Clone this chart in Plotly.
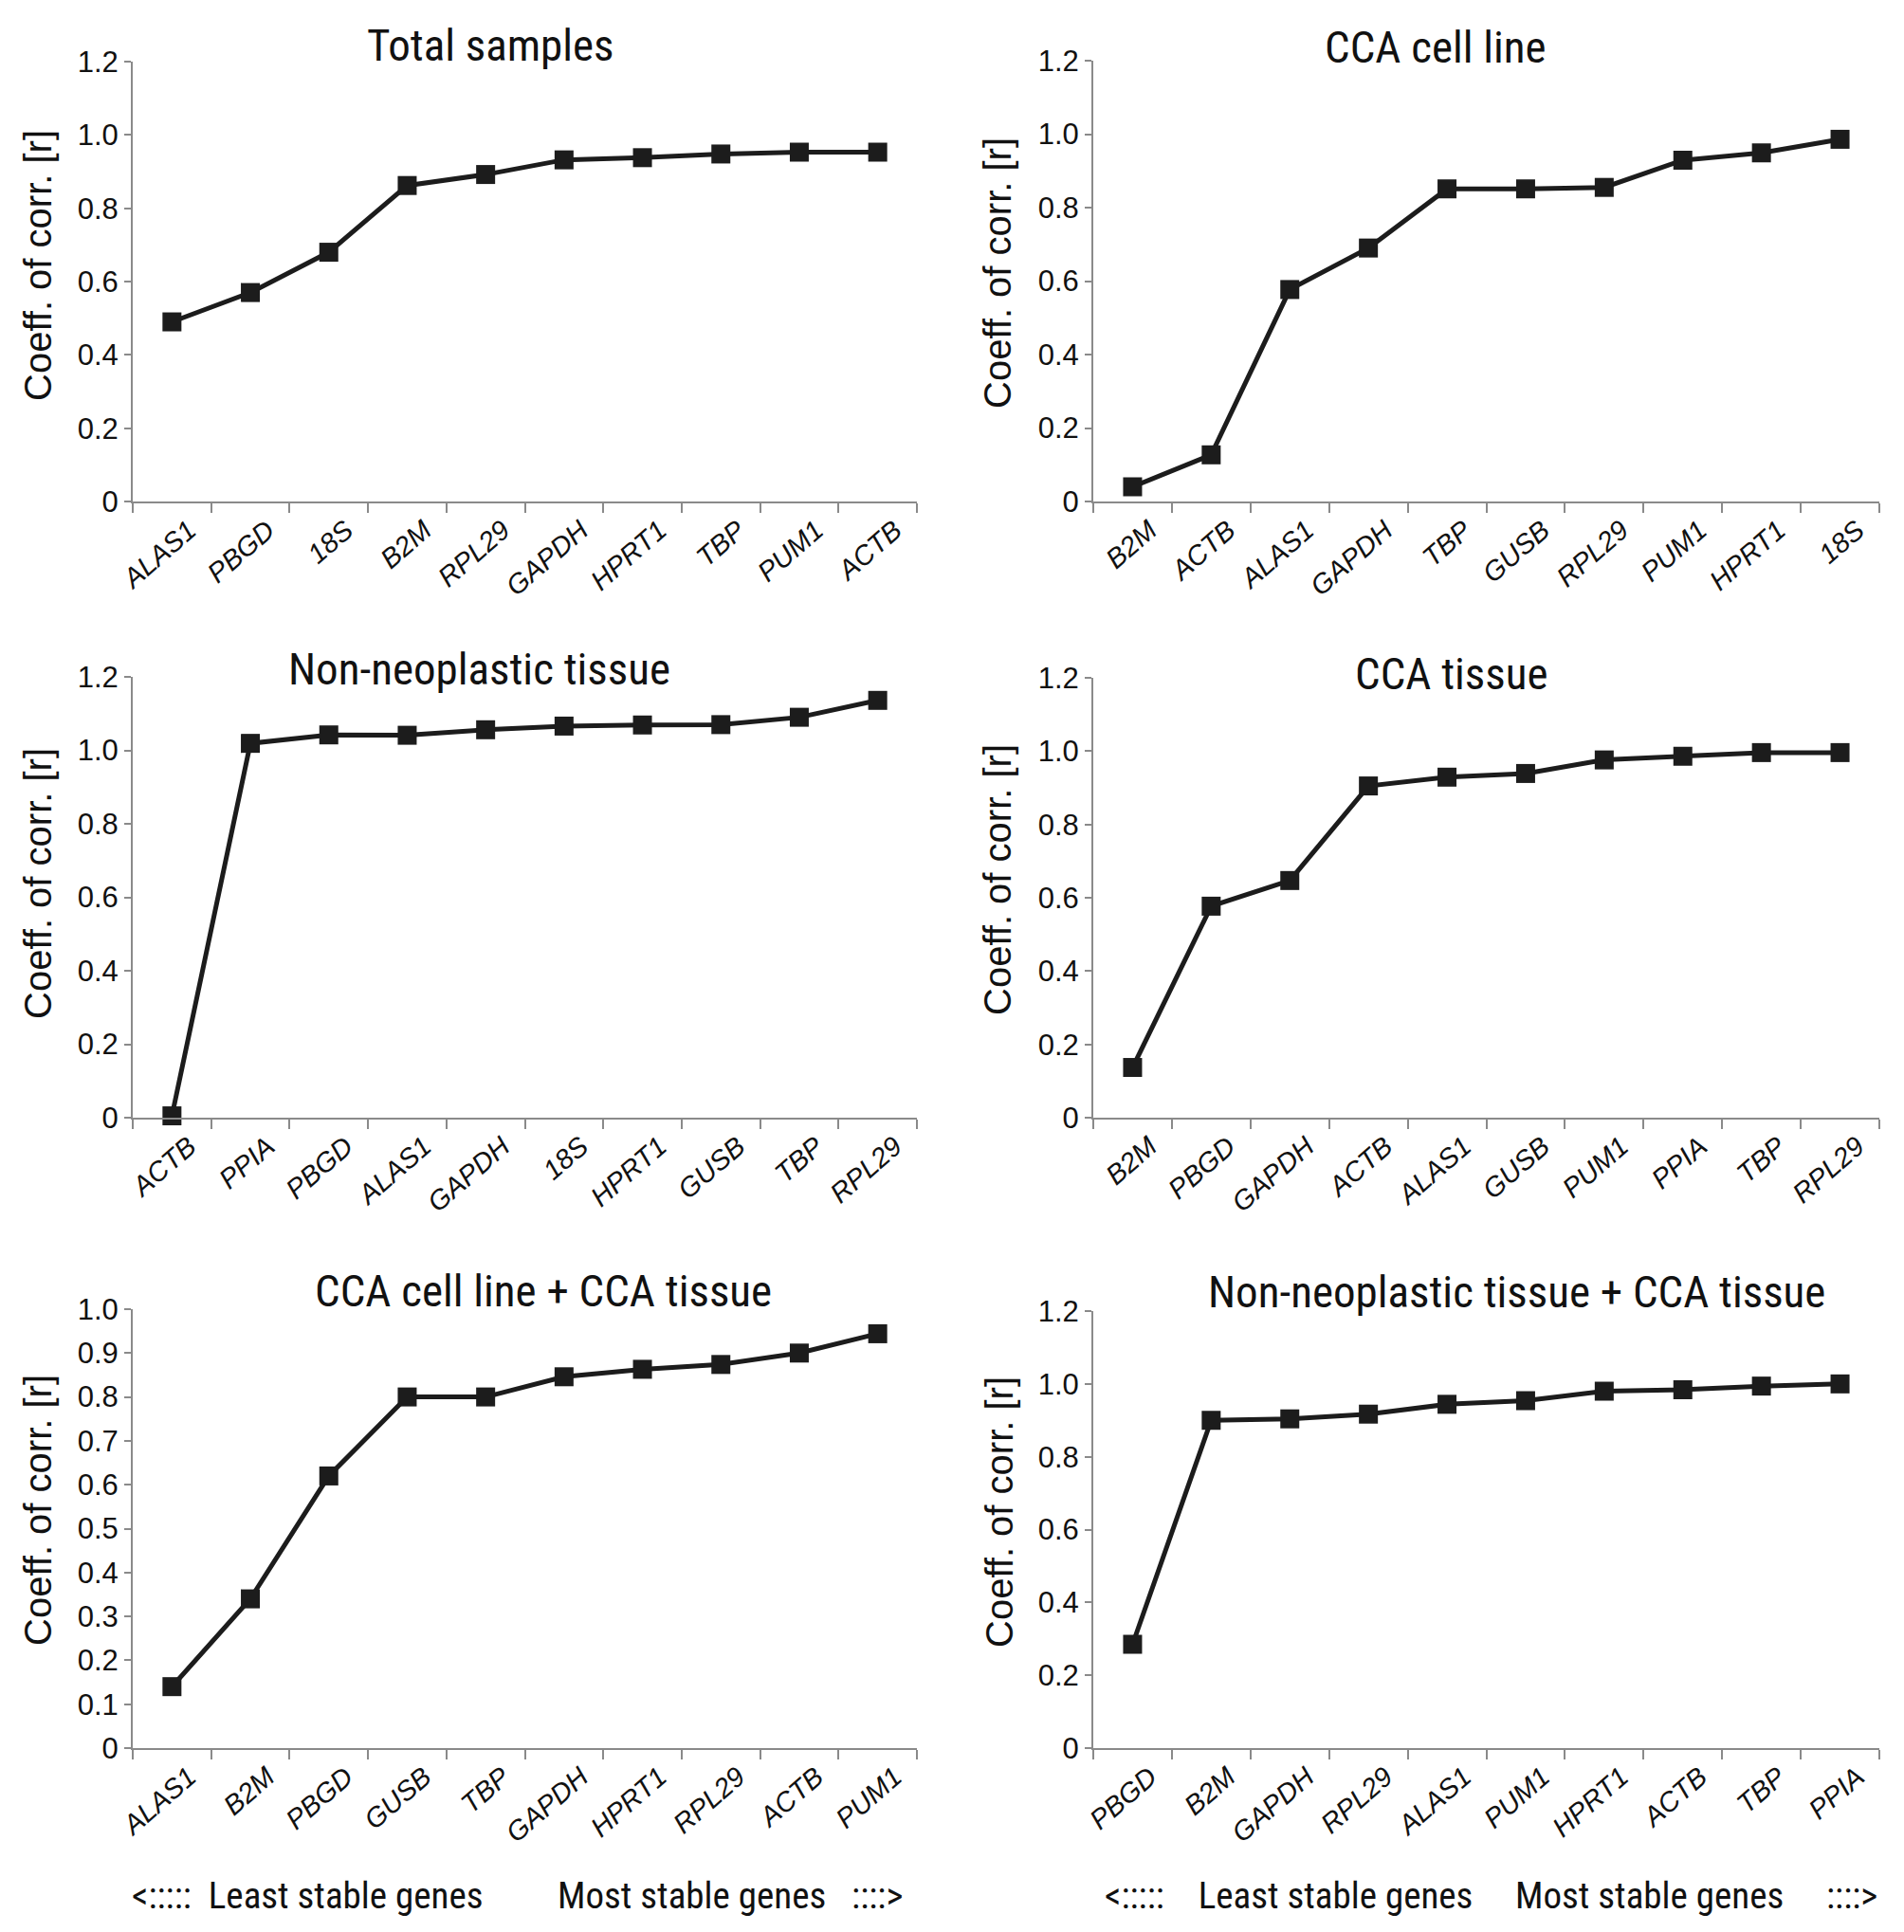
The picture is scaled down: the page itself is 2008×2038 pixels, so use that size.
import plotly.graph_objects as go

# page is 2008 x 2038; the browser body adds an 8 px margin, so the figure is 8 px smaller
PAGE_OFF = 8
W, H = 2000, 2030

# ---------------- data ----------------
total_genes = ["ALAS1", "PBGD", "18S", "B2M", "RPL29", "GAPDH", "HPRT1", "TBP", "PUM1", "ACTB"]
total_vals = [0.49, 0.57, 0.68, 0.862, 0.892, 0.932, 0.938, 0.948, 0.953, 0.953]

cellline_genes = ["B2M", "ACTB", "ALAS1", "GAPDH", "TBP", "GUSB", "RPL29", "PUM1", "HPRT1", "18S"]
cellline_vals = [0.04, 0.127, 0.577, 0.69, 0.851, 0.851, 0.855, 0.929, 0.949, 0.986]

nonneo_genes = ["ACTB", "PPIA", "PBGD", "ALAS1", "GAPDH", "18S", "HPRT1", "GUSB", "TBP", "RPL29"]
nonneo_vals = [0.005, 1.019, 1.042, 1.041, 1.056, 1.066, 1.069, 1.07, 1.09, 1.136]

ccatissue_genes = ["B2M", "PBGD", "GAPDH", "ACTB", "ALAS1", "GUSB", "PUM1", "PPIA", "TBP", "RPL29"]
ccatissue_vals = [0.137, 0.577, 0.647, 0.905, 0.929, 0.939, 0.976, 0.986, 0.996, 0.996]

cell_tissue_genes = ["ALAS1", "B2M", "PBGD", "GUSB", "TBP", "GAPDH", "HPRT1", "RPL29", "ACTB", "PUM1"]
cell_tissue_vals = [0.14, 0.34, 0.62, 0.80, 0.80, 0.846, 0.863, 0.874, 0.90, 0.944]

nonneo_tissue_genes = ["PBGD", "B2M", "GAPDH", "RPL29", "ALAS1", "PUM1", "HPRT1", "ACTB", "TBP", "PPIA"]
nonneo_tissue_vals = [0.285, 0.90, 0.904, 0.917, 0.944, 0.954, 0.98, 0.984, 0.994, 1.0]

titles = ["Total samples", "CCA cell line", "Non-neoplastic tissue", "CCA tissue",
          "CCA cell line + CCA tissue", "Non-neoplastic tissue + CCA tissue"]
y_title = "Coeff. of corr. [r]"
notes = [
    ("<:::::\u00a0 Least stable genes", "Most stable genes \u00a0 ::::>"),
    ("<:::::\u00a0\u00a0\u00a0 Least stable genes", "Most stable genes \u00a0\u00a0\u00a0 ::::>"),
]

ticks_12 = [0, 0.2, 0.4, 0.6, 0.8, 1.0, 1.2]
ticks_12_text = ["0", "0.2", "0.4", "0.6", "0.8", "1.0", "1.2"]
ticks_10 = [0, 0.1, 0.2, 0.3, 0.4, 0.5, 0.6, 0.7, 0.8, 0.9, 1.0]
ticks_10_text = ["0", "0.1", "0.2", "0.3", "0.4", "0.5", "0.6", "0.7", "0.8", "0.9", "1.0"]

panels = [
    (total_genes, total_vals, 1.2),
    (cellline_genes, cellline_vals, 1.2),
    (nonneo_genes, nonneo_vals, 1.2),
    (ccatissue_genes, ccatissue_vals, 1.2),
    (cell_tissue_genes, cell_tissue_vals, 1.0),
    (nonneo_tissue_genes, nonneo_tissue_vals, 1.2),
]

# ---------------- layout geometry (page pixels) ----------------
boxes = [
    (140, 967, 65, 529),
    (1153, 1982, 64, 529),
    (140, 967, 714, 1179),
    (1153, 1982, 715, 1179),
    (140, 967, 1381, 1844),
    (1153, 1982, 1383, 1844),
]
title_pos = [(517, 47), (1514, 49), (505, 705), (1531, 710), (573, 1361), (1599, 1362)]
ytitle_pos = [(40, 280), (1052, 288), (40, 932), (1052, 928), (40, 1593), (1054, 1595)]
note_pos = [(137, 954), (1163, 1982)]
note_y = 2000

COND = "Roboto Condensed, Liberation Sans, Arial, sans-serif"
REG = "Liberation Sans, Arial, sans-serif"
INK = "#1c1c1c"
AXC = "#8a8a8a"


def px(x):
    return (x - PAGE_OFF) / W


def py(y):
    return 1 - (y - PAGE_OFF) / H


fig = go.Figure()
annotations = []

for i, ((genes, vals, ymax), (l, r, t, b)) in enumerate(zip(panels, boxes)):
    n = i + 1
    xa = "x" if n == 1 else f"x{n}"
    ya = "y" if n == 1 else f"y{n}"
    fig.add_trace(go.Scatter(
        x=genes, y=vals, mode="lines+markers", xaxis=xa, yaxis=ya,
        line=dict(color=INK, width=5),
        marker=dict(symbol="square", size=20, color=INK),
        cliponaxis=False, showlegend=False,
    ))
    if ymax == 1.2:
        tv, tt = ticks_12, ticks_12_text
    else:
        tv, tt = ticks_10, ticks_10_text
    xkey = "xaxis" if n == 1 else f"xaxis{n}"
    ykey = "yaxis" if n == 1 else f"yaxis{n}"
    fig.update_layout({
        xkey: dict(
            domain=[px(l), px(r)], anchor=ya, type="category",
            range=[-0.5, 9.5], showgrid=False, zeroline=False, automargin=False,
            showline=True, linecolor=AXC, linewidth=2,
            ticks="outside", tickson="boundaries", ticklen=10, tickcolor=AXC, tickwidth=2,
            tickangle=-41, ticklabelshift=18,
            tickfont=dict(family=REG, size=29, color="#111", style="italic"),
            fixedrange=True,
        ),
        ykey: dict(
            domain=[py(b), py(t)], anchor=xa, range=[0, ymax],
            tickvals=tv, ticktext=tt, showgrid=False, zeroline=False, automargin=False,
            showline=True, linecolor=AXC, linewidth=2,
            ticks="outside", ticklen=7, tickcolor=AXC, tickwidth=2,
            tickfont=dict(family=REG, size=31, color="#111"),
            fixedrange=True,
        ),
    })
    tx, ty = title_pos[i]
    annotations.append(dict(
        text=titles[i], x=px(tx), y=py(ty), xref="paper", yref="paper",
        xanchor="center", yanchor="middle", showarrow=False,
        font=dict(family=COND, size=47, color="#111"),
    ))
    yx, yy = ytitle_pos[i]
    annotations.append(dict(
        text=y_title, x=px(yx), y=py(yy), xref="paper", yref="paper",
        xanchor="center", yanchor="middle", showarrow=False, textangle=-90,
        font=dict(family=REG, size=40, color="#111"),
    ))

for (left_txt, right_txt), (left_x, right_x) in zip(notes, note_pos):
    annotations.append(dict(
        text=left_txt, x=px(left_x), y=py(note_y), xref="paper", yref="paper",
        xanchor="left", yanchor="middle", showarrow=False,
        font=dict(family=COND, size=39, color="#111"),
    ))
    annotations.append(dict(
        text=right_txt, x=px(right_x), y=py(note_y), xref="paper", yref="paper",
        xanchor="right", yanchor="middle", showarrow=False,
        font=dict(family=COND, size=39, color="#111"),
    ))

fig.update_layout(
    width=W, height=H,
    margin=dict(l=0, r=0, t=0, b=0, pad=0, autoexpand=False),
    paper_bgcolor="white", plot_bgcolor="white",
    annotations=annotations,
    showlegend=False,
)

fig.write_html("out.html")
